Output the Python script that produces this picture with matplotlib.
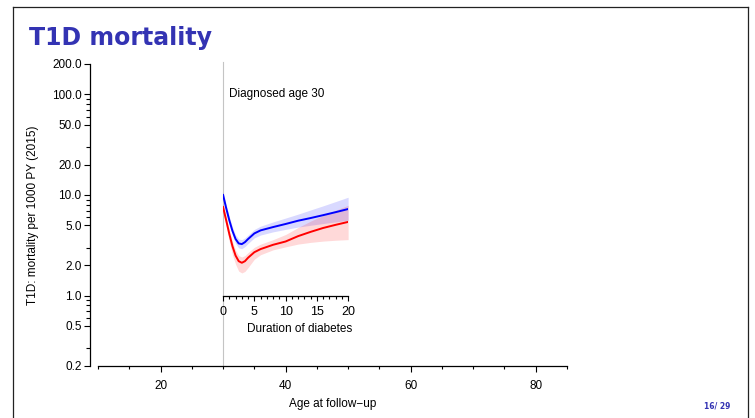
import matplotlib
matplotlib.use("Agg")
import matplotlib.pyplot as plt
from matplotlib.lines import Line2D
from matplotlib.ticker import FixedLocator, NullFormatter, FuncFormatter

# values (duration of diabetes, years; rates per 1000 PY)
duration = [0, 0.5, 1, 1.5, 2, 2.5, 3, 3.5, 4, 5, 6, 8, 10, 12, 14, 16, 18, 20]

blue_rate = [10.0, 7.4, 5.6, 4.4, 3.65, 3.3, 3.25, 3.4, 3.65, 4.15, 4.45, 4.8,
             5.15, 5.55, 5.9, 6.3, 6.75, 7.25]
blue_lo = [9.2, 6.8, 5.1, 4.0, 3.3, 2.98, 2.93, 3.07, 3.3, 3.75, 4.0, 4.3,
           4.55, 4.8, 5.0, 5.2, 5.4, 5.6]
blue_hi = [10.9, 8.0, 6.1, 4.8, 4.0, 3.65, 3.6, 3.75, 4.0, 4.55, 4.9, 5.4,
           5.9, 6.45, 7.1, 7.8, 8.6, 9.5]

red_rate = [7.6, 5.6, 4.1, 3.1, 2.5, 2.2, 2.12, 2.2, 2.38, 2.7, 2.9, 3.2,
            3.45, 3.9, 4.3, 4.7, 5.05, 5.4]
red_lo = [6.8, 4.9, 3.45, 2.55, 2.05, 1.75, 1.68, 1.74, 1.9, 2.3, 2.55, 2.85,
          3.05, 3.25, 3.38, 3.48, 3.55, 3.6]
red_hi = [8.3, 6.1, 4.5, 3.45, 2.82, 2.5, 2.42, 2.5, 2.68, 3.02, 3.25, 3.6,
          4.05, 4.75, 5.5, 6.25, 7.05, 7.9]

y_major = [0.2, 0.5, 1, 2, 5, 10, 20, 50, 100, 200]
y_minor = [0.3, 0.6, 0.7, 0.8, 0.9, 3, 6, 7, 8, 9, 30, 60, 70, 80, 90]
x_major = [20, 40, 60, 80]
x_minor = [10, 15, 25, 30, 35, 45, 50, 55, 65, 70, 75, 85]
dx_major = [0, 5, 10, 15, 20]
dx_minor = list(range(0, 21))

diag_age = 30
slide_blue = "#3333B3"

plt.rcParams["font.family"] = ["Liberation Sans", "DejaVu Sans"]
plt.rcParams["font.size"] = 8.5

W, H = 755, 418
fig = plt.figure(figsize=(W / 100, H / 100), dpi=100)

# slide frame
fig.add_artist(Line2D([13 / W, 13 / W], [0, 1 - 7 / H], color="#222222", lw=0.9))
fig.add_artist(Line2D([13 / W, 748 / W], [1 - 7 / H, 1 - 7 / H], color="#222222", lw=0.9))
fig.add_artist(Line2D([748 / W, 748 / W], [0, 1 - 7 / H], color="#222222", lw=0.9))

fig.text(29 / W, 1 - 45 / H, "T1D mortality", fontsize=17, fontweight="bold",
         color=slide_blue, family="DejaVu Sans", va="baseline")
fig.text(717 / W, 1 - 406 / H, "16/ 29", fontsize=5.5, fontweight="bold",
         color=slide_blue, family="DejaVu Sans", ha="center", va="center")

ax = fig.add_axes([98 / W, (H - 366) / H, (567 - 98) / W, (366 - 64) / H])
ax.patch.set_visible(False)
ax.set_yscale("log")
ax.set_ylim(0.2, 200)
ax.set_xlim(10, 85)
for s in ["top", "right"]:
    ax.spines[s].set_visible(False)
ax.spines["left"].set_position(("outward", 6))
ax.spines["left"].set_linewidth(0.9)
ax.spines["bottom"].set_linewidth(0.9)

ax.yaxis.set_major_locator(FixedLocator(y_major))
ax.yaxis.set_minor_locator(FixedLocator(y_minor))
ax.yaxis.set_major_formatter(FuncFormatter(lambda v, p: "%.1f" % v))
ax.yaxis.set_minor_formatter(NullFormatter())
ax.xaxis.set_major_locator(FixedLocator(x_major))
ax.xaxis.set_minor_locator(FixedLocator(x_minor))
ax.tick_params(axis="y", which="major", length=4.3, width=0.8, pad=1.5)
ax.tick_params(axis="y", which="minor", length=3, width=0.8)
ax.tick_params(axis="x", which="major", length=4.3, width=0.8, pad=6)
ax.tick_params(axis="x", which="minor", length=2.2, width=0.8)
ax.set_xlabel("Age at follow\u2212up", labelpad=4)
ax.set_ylabel("T1D: mortality per 1000 PY (2015)", labelpad=9)

ax.axvline(diag_age, ymin=0, ymax=1.005, color="#c4c4c4", lw=0.8, clip_on=False)
ax.text(diag_age + 1, 100, "Diagnosed age 30", ha="left", va="center")

# duration-of-diabetes panel sitting on the main age scale
ins = ax.inset_axes([diag_age, 1, 20, 199], transform=ax.transData)
ins.patch.set_visible(False)
ins.set_yscale("log")
ins.set_ylim(1, 200)
ins.set_xlim(0, 20)
for s in ["top", "right", "left"]:
    ins.spines[s].set_visible(False)
ins.spines["bottom"].set_linewidth(0.9)
ins.set_yticks([])
ins.yaxis.set_minor_locator(FixedLocator([]))
ins.xaxis.set_major_locator(FixedLocator(dx_major))
ins.xaxis.set_minor_locator(FixedLocator(dx_minor))
ins.tick_params(axis="x", which="major", length=3.8, width=0.8, pad=4)
ins.tick_params(axis="x", which="minor", length=2, width=0.8)
ins.tick_params(axis="x", labelsize=9)
ins.set_xlabel("Duration of diabetes")
ins.xaxis.set_label_coords(0.61, -0.12)

ins.fill_between(duration, blue_lo, blue_hi, color="blue", alpha=0.15, lw=0)
ins.fill_between(duration, red_lo, red_hi, color="red", alpha=0.15, lw=0)
ins.plot(duration, blue_rate, color="blue", lw=1.4)
ins.plot(duration, red_rate, color="red", lw=1.4)

fig.savefig("out.png", dpi=100)
